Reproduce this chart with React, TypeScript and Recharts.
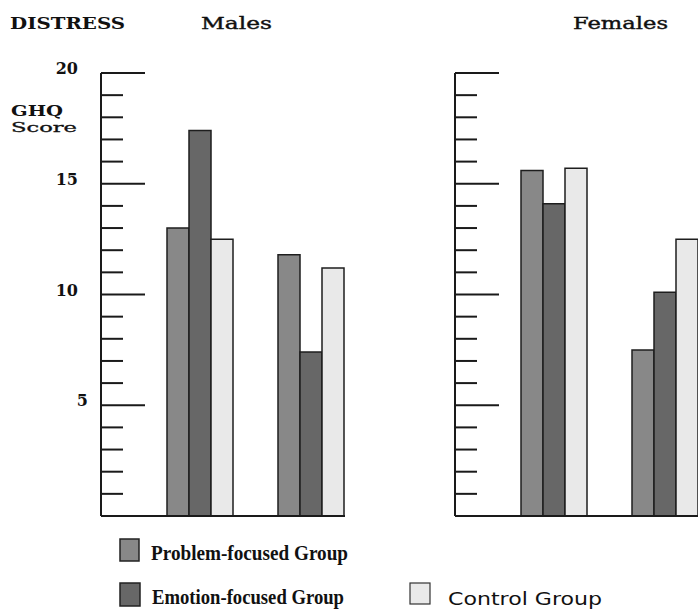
import React from 'react';
import { BarChart, Bar, XAxis, YAxis } from 'recharts';

const groups = ['1', '2'];
const maleProblem = [13.0, 11.8];
const maleEmotion = [17.4, 7.4];
const maleControl = [12.5, 11.2];
const femaleProblem = [15.6, 7.5];
const femaleEmotion = [14.1, 10.1];
const femaleControl = [15.7, 12.5];

const yTicks = [0, 1, 2, 3, 4, 5, 6, 7, 8, 9, 10, 11, 12, 13, 14, 15, 16, 17, 18, 19, 20];
const labelTicks = [5, 10, 15, 20];

const series = [
  { key: 'problem', name: 'Problem-focused Group', color: '#888888' },
  { key: 'emotion', name: 'Emotion-focused Group', color: '#676767' },
  { key: 'control', name: 'Control Group', color: '#e9e9e9' },
];

const maleData = groups.map((g, i) => ({
  group: g,
  problem: maleProblem[i],
  emotion: maleEmotion[i],
  control: maleControl[i],
}));
const femaleData = groups.map((g, i) => ({
  group: g,
  problem: femaleProblem[i],
  emotion: femaleEmotion[i],
  control: femaleControl[i],
}));

const INK = '#1a1a1a';
const SERIF = '"DejaVu Serif", serif';

const makeTick = (showLabels: boolean) => (props: any) => {
  const { x, y, payload } = props;
  const v = payload.value;
  if (v === 0) return <g />;
  const len = v % 5 === 0 ? 44 : 22;
  return (
    <g>
      <line x1={x} y1={y} x2={x + len} y2={y} stroke={INK} strokeWidth={2} />
      {showLabels && labelTicks.includes(v) && (
        <text
          x={v >= 10 ? x - 23 : x - 13}
          y={y + 1}
          textAnchor="end"
          fontFamily={SERIF}
          fontWeight="bold"
          fontSize={16}
          fill="#111"
        >
          {v}
        </text>
      )}
    </g>
  );
};

function Panel({ data, width, padRight, labels }: any) {
  return (
    <BarChart
      width={width}
      height={517}
      data={data}
      margin={{ top: 73, right: 0, bottom: 0, left: 0 }}
      barCategoryGap={22}
      barGap={0}
    >
      <XAxis
        dataKey="group"
        height={1}
        tick={false}
        tickLine={false}
        axisLine={{ stroke: INK, strokeWidth: 2 }}
        padding={{ left: 44, right: padRight }}
      />
      <YAxis
        width={101}
        domain={[0, 20]}
        ticks={yTicks}
        interval={0}
        tickSize={0}
        tickMargin={0}
        tickLine={false}
        axisLine={{ stroke: INK, strokeWidth: 2 }}
        tick={makeTick(labels)}
      />
      {series.map((s) => (
        <Bar
          key={s.key}
          dataKey={s.key}
          name={s.name}
          fill={s.color}
          stroke="#1e1e1e"
          strokeWidth={1.5}
          isAnimationActive={false}
        />
      ))}
    </BarChart>
  );
}

export default function App() {
  return (
    <div
      style={{
        position: 'absolute',
        left: 0,
        top: 0,
        width: 698,
        height: 611,
        overflow: 'hidden',
        background: '#fff',
      }}
    >
      <div style={{ position: 'absolute', left: 0, top: 0 }}>
        <Panel data={maleData} width={345} padRight={-22} labels={true} />
      </div>
      <div style={{ position: 'absolute', left: 354, top: 0 }}>
        <Panel data={femaleData} width={367} padRight={0} labels={false} />
      </div>
      <svg
        width={698}
        height={611}
        style={{ position: 'absolute', left: 0, top: 0, pointerEvents: 'none' }}
      >
        <text x={10} y={29} fontFamily={SERIF} fontWeight="bold" fontSize={17} fill="#111" textLength={115} lengthAdjust="spacingAndGlyphs">
          DISTRESS
        </text>
        <text x={201} y={29} fontFamily={SERIF} fontSize={17} fill="#111" stroke="#111" strokeWidth={0.4} textLength={71} lengthAdjust="spacingAndGlyphs">
          Males
        </text>
        <text x={573} y={29} fontFamily={SERIF} fontSize={17} fill="#111" stroke="#111" strokeWidth={0.4} textLength={95} lengthAdjust="spacingAndGlyphs">
          Females
        </text>
        <text x={11} y={116} fontFamily={SERIF} fontWeight="bold" fontSize={14} fill="#111" textLength={52} lengthAdjust="spacingAndGlyphs">
          GHQ
        </text>
        <text x={11} y={132} fontFamily={SERIF} fontSize={13} fill="#111" stroke="#111" strokeWidth={0.3} textLength={66} lengthAdjust="spacingAndGlyphs">
          Score
        </text>

        {/* legend */}
        <rect x={120} y={539} width={19} height={22} fill={series[0].color} stroke="#222" strokeWidth={1.5} />
        <text x={151} y={560} fontFamily='"Liberation Serif", serif' fontWeight="bold" fontSize={20} fill="#111" textLength={197} lengthAdjust="spacingAndGlyphs">
          {series[0].name}
        </text>
        <rect x={120} y={583} width={20} height={23} fill={series[1].color} stroke="#222" strokeWidth={1.5} />
        <text x={152} y={604} fontFamily='"Liberation Serif", serif' fontWeight="bold" fontSize={20} fill="#111" textLength={192} lengthAdjust="spacingAndGlyphs">
          {series[1].name}
        </text>
        <rect x={410} y={583} width={20} height={21} fill={series[2].color} stroke="#333" strokeWidth={1.2} />
        <text x={448} y={605} fontFamily='"DejaVu Sans", sans-serif' fontSize={18} fill="#111" textLength={154} lengthAdjust="spacingAndGlyphs">
          {series[2].name}
        </text>
      </svg>
    </div>
  );
}
